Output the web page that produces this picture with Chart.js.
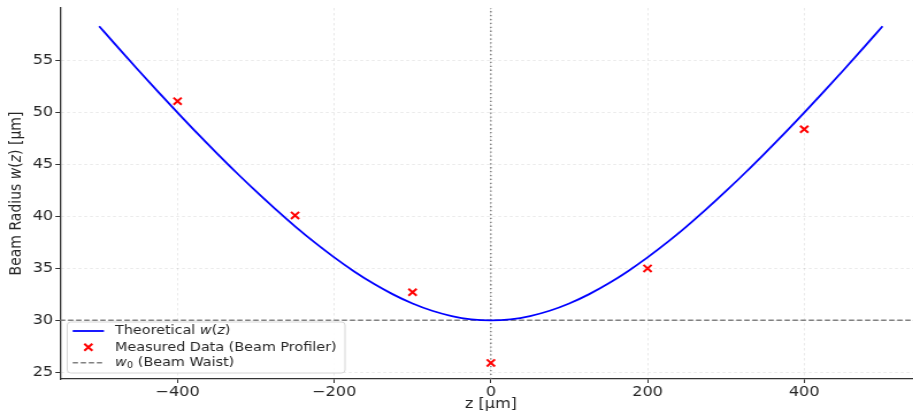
<!DOCTYPE html>
<html><head><meta charset="utf-8">
<script src="https://cdn.jsdelivr.net/npm/chart.js@4"></script>
<style>
html,body{margin:0;padding:0;background:#fff;overflow:hidden;width:913px;height:417px}
#c{position:absolute;left:0;top:0;transform:scaleX(1.15);transform-origin:0 0}
</style></head><body>
<canvas id="c" width="794" height="417"></canvas>
<script>
// ---- data ----
const curveZ = [-500,-475,-450,-425,-400,-375,-350,-325,-300,-275,-250,-225,-200,-175,-150,-125,-100,-75,-50,-25,0,
                25,50,75,100,125,150,175,200,225,250,275,300,325,350,375,400,425,450,475,500];
const curveW = [58.31,56.18,54.08,52.02,50.00,48.02,46.10,44.23,42.43,40.70,39.05,37.50,36.06,34.73,33.54,32.50,31.62,30.92,30.41,30.10,30.00,
                30.10,30.41,30.92,31.62,32.50,33.54,34.73,36.06,37.50,39.05,40.70,42.43,44.23,46.10,48.02,50.00,52.02,54.08,56.18,58.31];
const measuredZ = [-400, -250, -100, 0, 200, 400];
const measuredW = [51.1, 40.1, 32.7, 25.9, 35.0, 48.4];
const waistW = 30;
const focusZ = 0;
const xRange = [-550, 539];
const yRange = [24.35, 60.07];
const xTicks = [-400, -200, 0, 200, 400];
const yTicks = [25, 30, 35, 40, 45, 50, 55];
const xTitle = 'z [µm]';
const legendLabels = ['Theoretical ', 'Measured Data (Beam Profiler)', ' (Beam Waist)'];

// ---- styles ----
const FONT = '"DejaVu Sans", sans-serif';
const TXT = '#262626';
const BLUE = '#0000ff';
const RED = '#ff0000';
const GRAY = '#808080';
const WAIST_DASH = [4.6, 2.4];

function drawRich(ctx, parts, x, y, size) {
  let cx = x;
  for (const p of parts) {
    const s = p.sub ? size * 0.7 : size;
    ctx.font = (p.italic ? 'italic ' : '') + s + 'px ' + FONT;
    ctx.fillText(p.t, cx, y + (p.sub ? size * 0.22 : 0));
    cx += ctx.measureText(p.t).width;
  }
  return cx - x;
}
function richWidth(ctx, parts, size) {
  let w = 0;
  for (const p of parts) {
    const s = p.sub ? size * 0.7 : size;
    ctx.font = (p.italic ? 'italic ' : '') + s + 'px ' + FONT;
    w += ctx.measureText(p.t).width;
  }
  return w;
}

const decor = {
  id: 'decor',
  afterDraw(chart) {
    const ctx = chart.ctx;
    const area = chart.chartArea;
    const xs = chart.scales.x;
    ctx.save();
    ctx.fillStyle = TXT;
    ctx.textBaseline = 'middle';
    // x title
    ctx.font = '14px ' + FONT;
    ctx.textAlign = 'center';
    ctx.fillText(xTitle, xs.getPixelForValue(focusZ), 404);
    // y title
    ctx.textAlign = 'left';
    const yParts = [{t:'Beam Radius '},{t:'w',italic:true},{t:'('},{t:'z',italic:true},{t:') [µm]'}];
    ctx.save();
    ctx.translate(14.5, (area.top + area.bottom) / 2);
    ctx.rotate(-Math.PI / 2);
    const yw = richWidth(ctx, yParts, 14);
    drawRich(ctx, yParts, -yw / 2, 0, 14);
    ctx.restore();

    // legend
    const bx = 58.5, by = 322, bw = 241.5, bh = 51;
    ctx.beginPath();
    ctx.roundRect(bx, by, bw, bh, 3);
    ctx.fillStyle = 'rgba(255,255,255,0.85)';
    ctx.fill();
    ctx.strokeStyle = '#d6d6d6';
    ctx.lineWidth = 1;
    ctx.stroke();
    const rows = [331, 347.3, 362.7];
    const lx1 = 63.2, lx2 = 90.4, tx = 100;
    ctx.strokeStyle = BLUE; ctx.lineWidth = 1.8;
    ctx.beginPath(); ctx.moveTo(lx1, rows[0]); ctx.lineTo(lx2, rows[0]); ctx.stroke();
    const mx = (lx1 + lx2) / 2, r = 3.5;
    ctx.strokeStyle = RED; ctx.lineWidth = 2;
    ctx.beginPath();
    ctx.moveTo(mx - r, rows[1] - r); ctx.lineTo(mx + r, rows[1] + r);
    ctx.moveTo(mx - r, rows[1] + r); ctx.lineTo(mx + r, rows[1] - r);
    ctx.stroke();
    ctx.strokeStyle = GRAY; ctx.lineWidth = 1.5; ctx.setLineDash(WAIST_DASH);
    ctx.beginPath(); ctx.moveTo(lx1, rows[2]); ctx.lineTo(lx2, rows[2]); ctx.stroke();
    ctx.setLineDash([]);
    ctx.fillStyle = TXT;
    const LS = 12.5;
    drawRich(ctx, [{t:legendLabels[0]},{t:'w',italic:true},{t:'('},{t:'z',italic:true},{t:')'}], tx, rows[0], LS);
    drawRich(ctx, [{t:legendLabels[1]}], tx, rows[1], LS);
    drawRich(ctx, [{t:'w',italic:true},{t:'0',sub:true},{t:legendLabels[2]}], tx, rows[2], LS);
    ctx.restore();
  }
};

const fmt = v => String(v).replace('-', '\u2212');

new Chart(document.getElementById('c'), {
  type: 'line',
  data: {
    datasets: [
      {
        label: 'Measured Data (Beam Profiler)',
        data: measuredZ.map((z, i) => ({x: z, y: measuredW[i]})),
        showLine: false,
        pointStyle: 'crossRot',
        pointRadius: 5,
        pointBorderWidth: 2,
        borderColor: RED,
        backgroundColor: RED,
        pointHoverRadius: 5
      },
      {
        label: 'Theoretical w(z)',
        data: curveZ.map((z, i) => ({x: z, y: curveW[i]})),
        borderColor: BLUE,
        borderWidth: 1.8,
        pointRadius: 0,
        cubicInterpolationMode: 'monotone',
        fill: false
      },
      {
        label: 'w0 (Beam Waist)',
        data: [{x: xRange[0], y: waistW}, {x: xRange[1], y: waistW}],
        borderColor: GRAY,
        borderWidth: 1.5,
        borderDash: WAIST_DASH,
        pointRadius: 0,
        fill: false
      },
      {
        label: 'focus',
        data: [{x: focusZ, y: yRange[0]}, {x: focusZ, y: yRange[1]}],
        borderColor: '#707070',
        borderWidth: 1.3,
        borderDash: [1.3, 2.6],
        pointRadius: 0,
        fill: false
      }
    ]
  },
  options: {
    responsive: false,
    animation: false,
    devicePixelRatio: 1,
    layout: {autoPadding: false, padding: {top: 8, right: 0, left: 0, bottom: 0}},
    plugins: {legend: {display: false}, tooltip: {enabled: false}},
    events: [],
    scales: {
      x: {
        type: 'linear',
        min: xRange[0], max: xRange[1],
        afterBuildTicks: s => { s.ticks = xTicks.map(v => ({value: v})); },
        afterFit: s => { s.height = 38; s.paddingLeft = 0; s.paddingRight = 0; },
        ticks: {callback: v => fmt(v), color: TXT, font: {family: FONT, size: 14}, padding: 1, maxRotation: 0, autoSkip: false},
        grid: {color: 'rgba(0,0,0,0.11)', lineWidth: 0.8, tickColor: '#333', tickLength: 4, tickWidth: 1},
        border: {display: true, color: '#333', width: 1.3, dash: [2.5, 2.5]}
      },
      y: {
        type: 'linear',
        min: yRange[0], max: yRange[1],
        afterBuildTicks: s => { s.ticks = yTicks.map(v => ({value: v})); },
        afterFit: s => { s.width = 52.2; s.paddingTop = 0; s.paddingBottom = 0; },
        ticks: {callback: v => fmt(v), color: TXT, font: {family: FONT, size: 14}, padding: 2, autoSkip: false},
        grid: {color: 'rgba(0,0,0,0.11)', lineWidth: 0.8, tickColor: '#333', tickLength: 4, tickWidth: 1},
        border: {display: true, color: '#333', width: 1.3, dash: [2.5, 2.5]}
      }
    }
  },
  plugins: [decor]
});
</script>
</body></html>
